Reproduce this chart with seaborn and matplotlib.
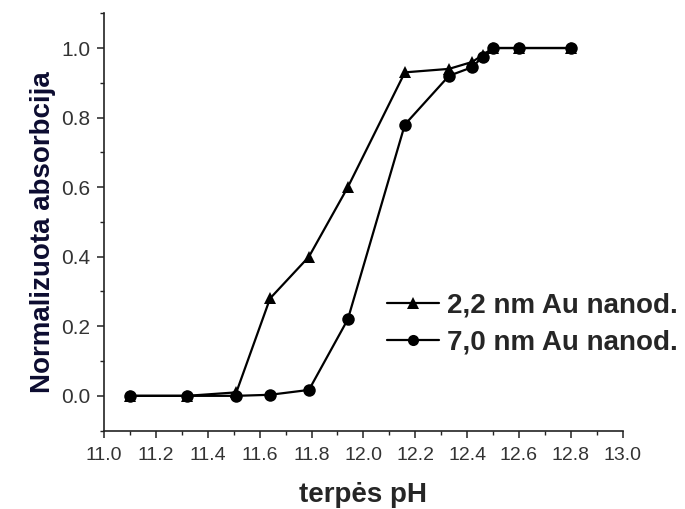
import numpy as np
import pandas as pd
import matplotlib
matplotlib.use("Agg")
import matplotlib.pyplot as plt
import seaborn as sns
from matplotlib.ticker import MultipleLocator, FormatStrFormatter
from matplotlib.lines import Line2D

# duomenys nuskaityti nuo paveikslo
ph = [11.10, 11.32, 11.51, 11.64, 11.79, 11.94, 12.16, 12.33, 12.42, 12.46, 12.50, 12.60, 12.80]
abs_22nm = [0.0, 0.0, 0.01, 0.28, 0.40, 0.60, 0.93, 0.94, 0.96, 0.98, 1.0, 1.0, 1.0]
abs_70nm = [0.0, 0.0, 0.0, 0.003, 0.017, 0.22, 0.78, 0.92, 0.945, 0.975, 1.0, 1.0, 1.0]
series_names = ["2,2 nm Au nanod.", "7,0 nm Au nanod."]

sns.set_theme(style="ticks")
plt.rcParams.update({
    'font.family': ['Liberation Sans', 'DejaVu Sans'],
    'xtick.direction': 'out',
    'ytick.direction': 'out',
    'axes.linewidth': 1.2,
})

df = pd.concat([
    pd.DataFrame({'pH': ph, 'A': abs_22nm, 'serija': series_names[0]}),
    pd.DataFrame({'pH': ph, 'A': abs_70nm, 'serija': series_names[1]}),
], ignore_index=True)

fig = plt.figure(figsize=(6.85, 5.09), dpi=100)
ax = fig.add_axes([0.152, 0.154, 0.757, 0.820])

sns.lineplot(data=df, x='pH', y='A', style='serija', hue='serija',
             palette=['black', 'black'], markers={series_names[0]: '^', series_names[1]: 'o'},
             dashes=False, markersize=9, markeredgewidth=0, linewidth=1.6,
             sort=False, legend=False, ax=ax)

ax.set_xlim(11.0, 13.0)
ax.set_ylim(-0.1, 1.1)
ax.xaxis.set_major_locator(MultipleLocator(0.2))
ax.xaxis.set_minor_locator(MultipleLocator(0.1))
ax.yaxis.set_minor_locator(MultipleLocator(0.1))
ax.set_yticks([0.0, 0.2, 0.4, 0.6, 0.8, 1.0])
ax.xaxis.set_major_formatter(FormatStrFormatter('%.1f'))
ax.yaxis.set_major_formatter(FormatStrFormatter('%.1f'))
ax.tick_params(which='major', length=5, width=1.1, colors='#222222')
ax.tick_params(which='minor', length=3, width=1.0, colors='#222222')
ax.tick_params(axis='x', which='major', labelsize=14, pad=7)
ax.tick_params(axis='y', which='major', labelsize=15, pad=5)
for lab in ax.get_xticklabels() + ax.get_yticklabels():
    lab.set_color('#333333')
sns.despine(ax=ax)

ax.set_xlabel('terpės pH', fontsize=20, fontweight='bold', labelpad=13)
ax.set_ylabel('Normalizuota absorbcija', fontsize=20, fontweight='bold', color='#0c0c30')
ax.yaxis.set_label_coords(-0.092, 0.476)

handles = [
    Line2D([], [], color='black', marker='^', markersize=8, markeredgewidth=0, linewidth=1.6),
    Line2D([], [], color='black', marker='o', markersize=8, markeredgewidth=0, linewidth=1.6),
]
leg = ax.legend(handles, series_names, loc='upper left', bbox_to_anchor=(0.525, 0.357),
                frameon=False, handlelength=1.85, handletextpad=0.3, labelspacing=0.38,
                borderaxespad=0, prop={'size': 20, 'weight': 'bold'})
ax.spines[['left', 'bottom']].set_color('#222222')

fig.savefig('out.png', dpi=100, facecolor='white')
